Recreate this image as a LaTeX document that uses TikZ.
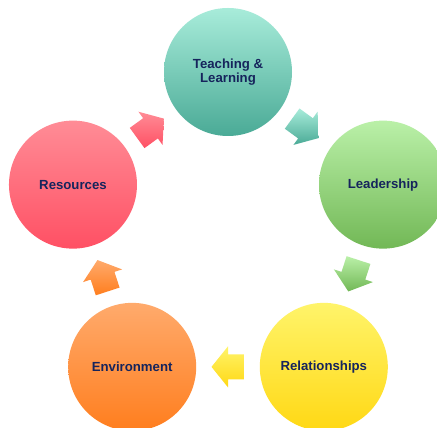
\documentclass[tikz,border=0pt]{standalone}
\usepackage{fontspec}
\setmainfont{Liberation Sans}
\usetikzlibrary{calc}
\definecolor{txt}{RGB}{22,36,92}
\definecolor{tealT}{RGB}{168,236,218}\definecolor{tealB}{RGB}{74,170,150}
\definecolor{greenT}{RGB}{186,240,168}\definecolor{greenB}{RGB}{114,184,86}
\definecolor{yelT}{RGB}{255,244,106}\definecolor{yelB}{RGB}{255,216,20}
\definecolor{orT}{RGB}{255,170,108}\definecolor{orB}{RGB}{255,126,30}
\definecolor{pinkT}{RGB}{255,140,150}\definecolor{pinkB}{RGB}{255,80,100}
\tikzset{
  bubble/.style={circle, minimum size=128pt, inner sep=0pt, draw=none,
    font=\fontsize{13.2}{12}\selectfont\bfseries, text=txt, align=center},
}
\newcommand\blockarrow[4]{%
  \begin{scope}[shift={(#1)}, rotate=#2]
    \shade[top color=#3, bottom color=#4]
      (-16.5,12.5) -- (0,12.5) -- (0,20.5) -- (16.5,0) -- (0,-20.5) -- (0,-12.5) -- (-16.5,-12.5) -- cycle;
  \end{scope}}
\begin{document}
\begin{tikzpicture}[x=1pt,y=1pt]
\useasboundingbox (0,0) rectangle (437,428);
\fill[white] (0,0) rectangle (437,428);
\clip (0,0) rectangle (437,428);
\coordinate (ctr) at (228,193);
\node[bubble, top color=tealT, bottom color=tealB] (teach) at ($(ctr)+(90:163)$) {Teaching \&\\Learning};
\node[bubble, top color=greenT, bottom color=greenB] (lead) at ($(ctr)+(18:163)$) {Leadership};
\node[bubble, top color=yelT, bottom color=yelB] (rel) at ($(ctr)+(-54:163)$) {Relationships};
\node[bubble, top color=orT, bottom color=orB] (env) at ($(ctr)+(-126:163)$) {Environment};
\node[bubble, top color=pinkT, bottom color=pinkB] (res) at ($(ctr)+(162:163)$) {Resources};
\coordinate (m1) at ($(res.center)!0.5!(teach.center)$);
\coordinate (m2) at ($(teach.center)!0.5!(lead.center)$);
\coordinate (m3) at ($(lead.center)!0.5!(rel.center)$);
\coordinate (m4) at ($(rel.center)!0.5!(env.center)$);
\coordinate (m5) at ($(env.center)!0.5!(res.center)$);
\blockarrow{m1}{36}{pinkT}{pinkB}
\blockarrow{m2}{-36}{tealT}{tealB}
\blockarrow{m3}{-108}{greenT}{greenB}
\blockarrow{m4}{180}{yelT}{yelB}
\blockarrow{m5}{108}{orT}{orB}
\end{tikzpicture}
\end{document}
